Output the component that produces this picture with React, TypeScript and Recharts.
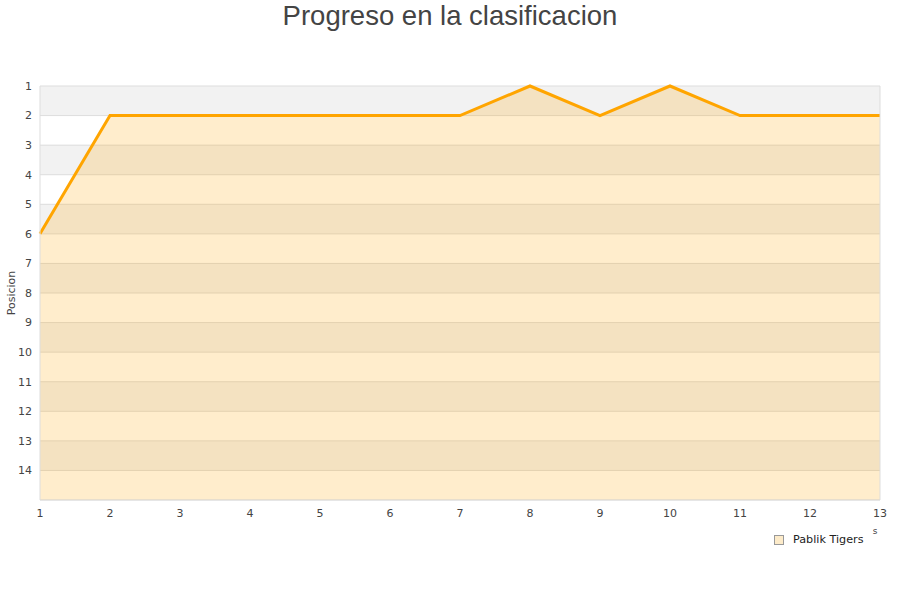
import React from "react";
import { AreaChart, Area, XAxis, YAxis, CartesianGrid } from "recharts";

const jornadas = [1, 2, 3, 4, 5, 6, 7, 8, 9, 10, 11, 12, 13];
const posiciones = [6, 2, 2, 2, 2, 2, 2, 1, 2, 1, 2, 2, 2];
const yTicks = [1, 2, 3, 4, 5, 6, 7, 8, 9, 10, 11, 12, 13, 14];
const seriesName = "Pablik Tigers";
const titleText = "Progreso en la clasificacion";
const yLabel = "Posicion";
const xLabel = "s";

const data = jornadas.map((j, i) => ({ jornada: j, pos: posiciones[i] }));

const tickStyle = { fontFamily: "DejaVu Sans, sans-serif", fontSize: 11, fill: "#444" };

export default function App() {
  return (
    <div style={{ position: "absolute", left: 0, top: 0, width: 900, height: 600, background: "#fff" }}>
      <div style={{ position: "absolute", left: 0, top: 0, width: 900, textAlign: "center", fontFamily: "Liberation Sans, Arial, sans-serif", fontSize: 27.5, color: "#444", lineHeight: "32px" }}>
        {titleText}
      </div>
      <AreaChart width={900} height={600} data={data} margin={{ top: 86, right: 19, bottom: 70, left: 0 }}>
        <CartesianGrid vertical={false} stroke="#dddddd" horizontalFill={["#f2f2f2", "#ffffff"]} fillOpacity={1} />
        <XAxis
          dataKey="jornada"
          type="number"
          domain={[1, 13]}
          ticks={jornadas}
          interval={0}
          height={30}
          tickSize={0}
          tickMargin={9}
          tick={tickStyle}
          axisLine={{ stroke: "#dddddd" }}
          tickLine={false}
          label={{
            content: () => (
              <text x={875} y={534} textAnchor="middle" style={{ fontFamily: "DejaVu Sans, sans-serif", fontSize: 9, fill: "#444" }}>
                {xLabel}
              </text>
            ),
          }}
        />
        <YAxis
          reversed
          type="number"
          domain={[1, 15]}
          ticks={yTicks}
          interval={0}
          width={40}
          tickSize={0}
          tickMargin={8}
          tick={tickStyle}
          axisLine={{ stroke: "#dddddd" }}
          tickLine={false}
          label={{
            content: (props: any) => {
              const vb = props.viewBox || { x: 0, y: 86, height: 414 };
              const cx = 11;
              const cy = vb.y + vb.height / 2;
              return (
                <text x={cx} y={cy} transform={`rotate(-90 ${cx} ${cy})`} textAnchor="middle" dominantBaseline="central" style={{ fontFamily: "DejaVu Sans, sans-serif", fontSize: 11, fill: "#444" }}>
                  {yLabel}
                </text>
              );
            },
          }}
        />
        <YAxis yAxisId="right" orientation="right" width={1} tick={false} tickLine={false} axisLine={{ stroke: "#dddddd" }} />
        <Area
          type="linear"
          dataKey="pos"
          name={seriesName}
          baseValue={15}
          stroke="#ffa500"
          strokeWidth={3}
          fill="#ffa500"
          fillOpacity={0.2}
          dot={false}
          activeDot={false}
          isAnimationActive={false}
        />
      </AreaChart>
      <div style={{ position: "absolute", left: 774, top: 533, display: "flex", alignItems: "center", fontFamily: "DejaVu Sans, sans-serif", fontSize: 11.2, color: "#222", lineHeight: "14px" }}>
        <span style={{ display: "inline-block", width: 8, height: 8, background: "#fdebc9", border: "1px solid #999", marginRight: 9 }} />
        <span>{seriesName}</span>
      </div>
    </div>
  );
}
